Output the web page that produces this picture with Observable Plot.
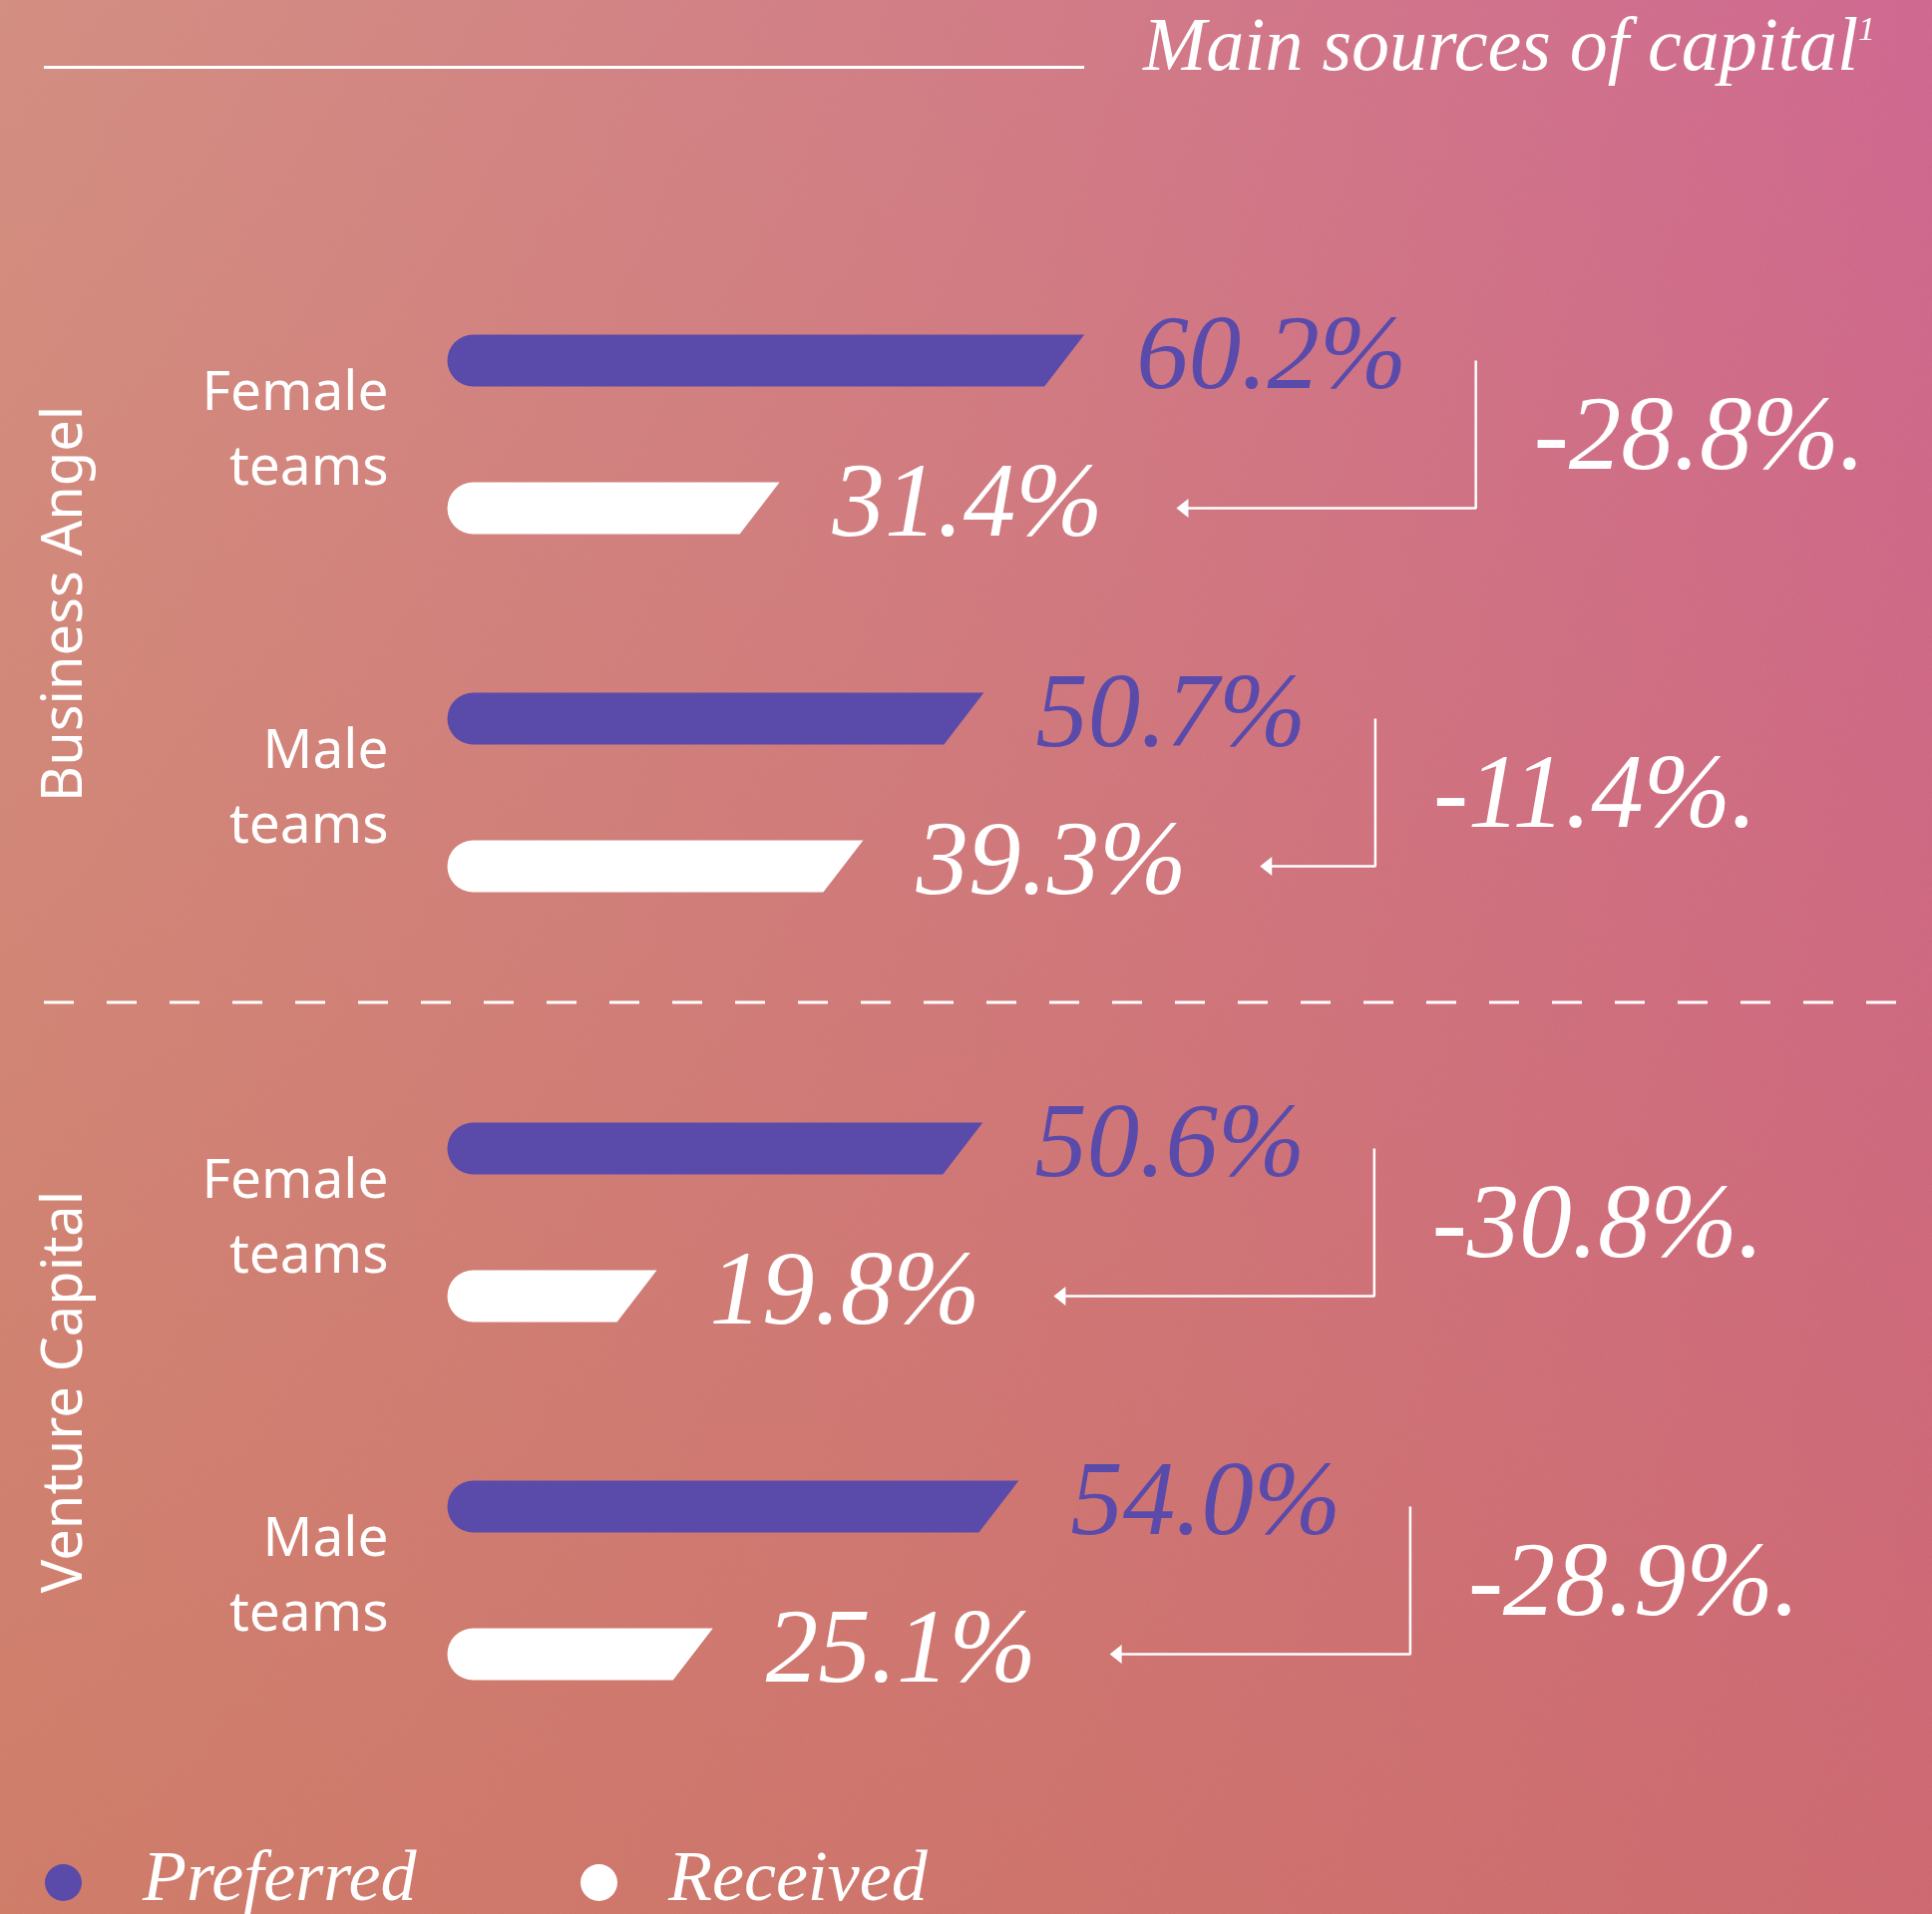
<!DOCTYPE html>
<html>
<head>
<meta charset="utf-8">
<script src="https://cdn.jsdelivr.net/npm/d3@7"></script>
<script src="https://cdn.jsdelivr.net/npm/@observablehq/plot@0.6"></script>
<style>
  html, body { margin: 0; padding: 0; }
  body {
    width: 1937px; height: 1919px; overflow: hidden;
    background:
      url("data:image/svg+xml;utf8,<svg xmlns='http://www.w3.org/2000/svg' width='400' height='400'><filter id='n'><feTurbulence type='fractalNoise' baseFrequency='0.85' numOctaves='2' stitchTiles='stitch'/><feColorMatrix values='0 0 0 0 0.55  0 0 0 0 0.3  0 0 0 0 0.32  0.9 0 0 0 -0.3'/></filter><rect width='100%' height='100%' filter='url(%23n)' opacity='0.35'/></svg>"),
      linear-gradient(to bottom, rgba(205,110,80,0) 0%, rgba(203,105,78,0.5) 100%),
      linear-gradient(to right, #d48e80 0%, #d27a86 55%, #d06690 100%);
  }
  #header { position: relative; height: 110px; }
  #rule { position: absolute; left: 44px; top: 65.5px; width: 1043px; height: 3px; background: #fff; }
  #title { position: absolute; right: 57px; top: 6.4px; font: italic 76px/76px "Liberation Serif", serif; color: #fff; white-space: nowrap; }
  #title sup { position: relative; top: -30px; font-size: 34px; vertical-align: baseline; }
  #chart { height: 1730px; }
  #chart svg { display: block; }
  #legend { position: relative; height: 79px; }
  .dot { position: absolute; width: 37px; height: 37px; border-radius: 50%; top: 28.5px; }
  .lab { position: absolute; top: 4.7px; font: italic 72px/72px "Liberation Serif", serif; color: #fff; white-space: nowrap; }
</style>
</head>
<body>
<div id="header"><div id="rule"></div><div id="title"></div></div>
<div id="chart"></div>
<div id="legend"></div>
<script>
// ---- data ----
const titleText = "Main sources of capital";
const titleNote = "1";
const sources = ["Business Angel", "Venture Capital"];
const teams = ["Female", "Male"];
const teamLabels = ["Female\nteams", "Male\nteams"];
const rowSource = ["Business Angel", "Business Angel", "Venture Capital", "Venture Capital"];
const rowTeam = ["Female", "Male", "Female", "Male"];
const preferred = [60.2, 50.7, 50.6, 54.0];
const received = [31.4, 39.3, 19.8, 25.1];
const legendLabels = ["Preferred", "Received"];

// ---- style ----
const PURPLE = "#5a4bab";
const WHITE = "#ffffff";
const SERIF = "'Liberation Serif', serif";
const SANS = "'Noto Sans', 'Open Sans', sans-serif";
const ROW_OFF = 74;        // px offset of preferred/received rows from team centre
const BAR_H = 52, SLANT = 40;
const BRACKET_PAD = 37, ARROW_PAD = 37.5; // in % units after the bars

const rows = rowSource.map((s, i) => ({
  source: s, team: rowTeam[i], label: teamLabels[teams.indexOf(rowTeam[i])],
  preferred: preferred[i], received: received[i], diff: received[i] - preferred[i]
}));

// custom curves
function slantBar(h, slant) {
  return (ctx) => {
    let pts;
    return {
      areaStart() {}, areaEnd() {},
      lineStart() { pts = []; },
      point(x, y) { pts.push([+x, +y]); },
      lineEnd() {
        const [[xa, y], [xb]] = pts; const r = h / 2;
        ctx.moveTo(xa + r, y - r);
        ctx.lineTo(xb, y - r);
        ctx.lineTo(xb - slant, y + r);
        ctx.lineTo(xa + r, y + r);
        ctx.arc(xa + r, y, r, Math.PI / 2, 3 * Math.PI / 2);
        ctx.closePath();
      }
    };
  };
}
function bracket(off) {
  return (ctx) => {
    let pts;
    return {
      areaStart() {}, areaEnd() {},
      lineStart() { pts = []; },
      point(x, y) { pts.push([+x, +y]); },
      lineEnd() {
        const [[xa, y], [xb]] = pts;
        ctx.moveTo(xa, y - off);
        ctx.lineTo(xa, y + off);
        ctx.lineTo(xb + 4, y + off);
      }
    };
  };
}
function arrowHead(depth, half) {
  return (ctx) => {
    let pts;
    return {
      areaStart() {}, areaEnd() {},
      lineStart() { pts = []; },
      point(x, y) { pts.push([+x, +y]); },
      lineEnd() {
        const [, [xb, y]] = pts;
        ctx.moveTo(xb, y);
        ctx.lineTo(xb + depth, y - half);
        ctx.lineTo(xb + depth, y + half);
        ctx.closePath();
      }
    };
  };
}

const fmt = (v) => d3.format(".1f")(v) + "%";

const plot = Plot.plot({
  width: 1937,
  height: 1730,
  marginTop: 109,
  marginBottom: 41,
  marginLeft: 44,
  marginRight: 25,
  style: { background: "transparent", overflow: "visible", fontFamily: SANS, color: WHITE },
  x: { domain: [0, 138], insetLeft: 404, axis: null },
  y: { type: "point", domain: teams, padding: 0.6, axis: null },
  fy: { domain: sources, padding: 0, axis: null },
  marks: [
    // dashed separator at the top of the Venture Capital panel
    Plot.ruleY(rows.filter((d) => d.source === sources[1] && d.team === teams[0]), {
      fy: "source", y: "team", dy: -220.5,
      stroke: WHITE, strokeWidth: 3, strokeDasharray: "30,33"
    }),
    // vertical source labels
    Plot.text(sources, {
      fy: (d) => d, text: (d) => d, frameAnchor: "left", rotate: -90,
      dx: 20, dy: -9, fontSize: 56, fill: WHITE, fontFamily: SANS,
      textAnchor: "middle", lineAnchor: "middle"
    }),
    // team labels
    Plot.text(rows, {
      fy: "source", y: "team", x: () => 0, text: "label",
      textAnchor: "end", dx: -59, dy: -11, fontSize: 55, lineHeight: 1.36,
      fill: WHITE, fontFamily: SANS
    }),
    // preferred bars
    Plot.link(rows, {
      fy: "source", x1: () => 0, x2: "preferred", y1: "team", y2: "team",
      dy: -ROW_OFF, curve: slantBar(BAR_H, SLANT), fill: PURPLE, stroke: "none"
    }),
    // received bars
    Plot.link(rows, {
      fy: "source", x1: () => 0, x2: "received", y1: "team", y2: "team",
      dy: ROW_OFF, curve: slantBar(BAR_H, SLANT), fill: WHITE, stroke: "none"
    }),
    // value labels
    Plot.text(rows, {
      fy: "source", y: "team", x: "preferred", text: (d) => fmt(d.preferred),
      dx: 52, dy: -ROW_OFF - 6, textAnchor: "start", fill: PURPLE,
      fontSize: 105, fontStyle: "italic", fontFamily: SERIF
    }),
    Plot.text(rows, {
      fy: "source", y: "team", x: "received", text: (d) => fmt(d.received),
      dx: 53, dy: ROW_OFF - 6, textAnchor: "start", fill: WHITE,
      fontSize: 105, fontStyle: "italic", fontFamily: SERIF
    }),
    // brackets with arrows
    Plot.link(rows, {
      fy: "source", x1: (d) => d.preferred + BRACKET_PAD, x2: (d) => d.received + ARROW_PAD,
      y1: "team", y2: "team", curve: bracket(ROW_OFF),
      stroke: WHITE, strokeWidth: 2.5, fill: "none"
    }),
    Plot.link(rows, {
      fy: "source", x1: (d) => d.preferred + BRACKET_PAD, x2: (d) => d.received + ARROW_PAD,
      y1: "team", y2: "team", dy: ROW_OFF, curve: arrowHead(12, 9.5),
      fill: WHITE, stroke: "none"
    }),
    // difference labels
    Plot.text(rows, {
      fy: "source", y: "team", x: (d) => d.preferred + BRACKET_PAD,
      text: (d) => d3.format(".1f")(d.diff).replace("−", "-") + "%.",
      dx: 58, dy: 1, textAnchor: "start", fill: WHITE,
      fontSize: 105, fontStyle: "italic", fontFamily: SERIF
    })
  ]
});
document.getElementById("chart").appendChild(plot);

// title
const t = document.getElementById("title");
t.textContent = titleText;
const sup = document.createElement("sup");
sup.textContent = titleNote;
t.appendChild(sup);

// legend
const legend = document.getElementById("legend");
const legendColors = [PURPLE, WHITE];
const dotX = [44.5, 581.5];
const labX = [143, 670];
legendLabels.forEach((name, i) => {
  const dot = document.createElement("div");
  dot.className = "dot";
  dot.style.left = dotX[i] + "px";
  dot.style.background = legendColors[i];
  legend.appendChild(dot);
  const lab = document.createElement("div");
  lab.className = "lab";
  lab.style.left = labX[i] + "px";
  lab.textContent = name;
  legend.appendChild(lab);
});
</script>
</body>
</html>
